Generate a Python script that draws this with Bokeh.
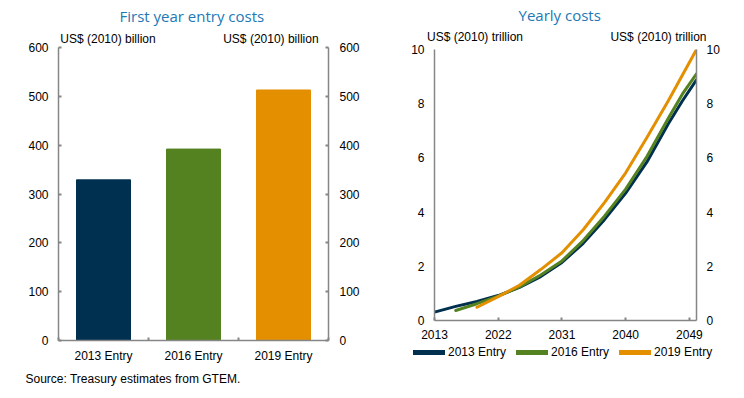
from bokeh.plotting import figure
from bokeh.models import (Range1d, LinearAxis, FixedTicker, Legend,
                          LegendItem, ColumnDataSource, Title)
from bokeh.layouts import row, column
from bokeh.embed import file_html
from bokeh.resources import INLINE

# ---------------- data ----------------
categories = ["2013 Entry", "2016 Entry", "2019 Entry"]
first_year_cost = [329, 392, 513]          # US$ (2010) billion
bar_colors = ["#00304F", "#548220", "#E38F00"]

left_y_ticks = [0, 100, 200, 300, 400, 500, 600]

years_2013 = [2013, 2016, 2019, 2022, 2025, 2028, 2031, 2034, 2037, 2040, 2043, 2046, 2048, 2050]
cost_2013 = [0.31, 0.52, 0.70, 0.92, 1.22, 1.62, 2.14, 2.85, 3.72, 4.70, 5.85, 7.25, 8.10, 8.88]

years_2016 = [2016, 2019, 2022, 2025, 2028, 2031, 2034, 2037, 2040, 2043, 2046, 2048, 2050]
cost_2016 = [0.37, 0.62, 0.90, 1.24, 1.68, 2.20, 2.95, 3.85, 4.85, 6.05, 7.45, 8.35, 9.10]

years_2019 = [2019, 2022, 2025, 2028, 2031, 2034, 2037, 2040, 2043, 2046, 2048, 2050]
cost_2019 = [0.49, 0.88, 1.30, 1.88, 2.50, 3.35, 4.35, 5.45, 6.75, 8.10, 9.05, 10.0]

x_ticks = [2013, 2022, 2031, 2040, 2049]
right_y_ticks = [0, 2, 4, 6, 8, 10]

left_unit = "US$ (2010) billion"
right_unit = "US$ (2010) trillion"

FONT = "Liberation Sans"
TITLE_FONT = "Open Sans"
TITLE_COLOR = "#2278B5"
AX = "#868686"
H = 392


def style_axis(ax, tick_in=0, standoff=10):
    ax.axis_line_color = AX
    ax.axis_line_width = 1.5
    ax.major_tick_line_color = AX
    ax.major_tick_line_width = 2
    ax.minor_tick_line_color = AX
    ax.minor_tick_line_width = 2
    ax.major_tick_in = tick_in
    ax.major_tick_out = 0
    ax.minor_tick_in = 0
    ax.minor_tick_out = 0
    ax.major_label_standoff = standoff
    ax.major_label_text_font = FONT
    ax.major_label_text_font_size = "12px"
    ax.major_label_text_color = "black"


def unit_axis(ticks, labels, standoff):
    ax = LinearAxis(ticker=FixedTicker(ticks=ticks),
                    major_label_overrides={t: s for t, s in zip(ticks, labels)})
    ax.axis_line_color = None
    ax.major_tick_line_color = None
    ax.minor_tick_line_color = None
    ax.major_tick_out = 0
    ax.major_tick_in = 0
    ax.minor_tick_out = 0
    ax.minor_tick_in = 0
    ax.major_label_standoff = standoff
    ax.major_label_text_font = FONT
    ax.major_label_text_font_size = "12px"
    ax.major_label_text_color = "black"
    return ax


def style_title(p, text, offset, standoff):
    p.title.text = text
    p.title.align = "left"
    p.title.offset = offset
    p.title.text_font = TITLE_FONT
    p.title.text_font_size = "15px"
    p.title.text_font_style = "normal"
    p.title.text_color = TITLE_COLOR
    p.title.standoff = standoff


# ---------------- left: first year entry costs ----------------
p1 = figure(width=372, height=H, output_backend="svg", toolbar_location=None,
            x_range=Range1d(0, 3), y_range=Range1d(0, 600),
            min_border_left=58, min_border_right=44, min_border_top=46,
            min_border_bottom=H - 340)
p1.frame_align = False
p1.outline_line_color = None
p1.xgrid.visible = False
p1.ygrid.visible = False

xpos = [i + 0.5 for i in range(len(categories))]
src1 = ColumnDataSource(dict(x=xpos, top=first_year_cost, color=bar_colors, cat=categories))
p1.vbar(x="x", top="top", width=0.6, color="color", source=src1)

xa = p1.xaxis[0]
style_axis(xa, tick_in=0, standoff=8)
xa.ticker = FixedTicker(ticks=xpos, minor_ticks=list(range(len(categories) + 1)))
xa.major_label_overrides = {x: c for x, c in zip(xpos, categories)}
xa.minor_tick_in = 3

ya = p1.yaxis[0]
style_axis(ya, tick_in=3, standoff=10)
ya.ticker = FixedTicker(ticks=left_y_ticks)

ya2 = LinearAxis(ticker=FixedTicker(ticks=left_y_ticks))
style_axis(ya2, tick_in=3, standoff=11)
p1.add_layout(ya2, "right")

p1.add_layout(unit_axis([0.55, 2.36], [left_unit, left_unit], 2), "above")
style_title(p1, "First year entry costs", 61, 6)

src_title = Title(text="Source: Treasury estimates from GTEM.", align="left",
                  offset=-33, text_font=FONT, text_font_size="12px",
                  text_font_style="normal", text_color="black", standoff=8)
p1.add_layout(src_title, "below")

# ---------------- right: yearly costs ----------------
H2 = 345
p2 = figure(width=364, height=H2, output_backend="svg", toolbar_location=None,
            x_range=Range1d(2013, 2050), y_range=Range1d(0, 10),
            min_border_left=62, min_border_right=40, min_border_top=49,
            min_border_bottom=H2 - 320)
p2.frame_align = False
p2.outline_line_color = None
p2.xgrid.visible = False
p2.ygrid.visible = False

series = [("2013 Entry", years_2013, cost_2013, bar_colors[0]),
          ("2016 Entry", years_2016, cost_2016, bar_colors[1]),
          ("2019 Entry", years_2019, cost_2019, bar_colors[2])]
for name, xs, ys, col in series:
    p2.line(xs, ys, line_color=col, line_width=3, line_cap="round", line_join="round")

xb = p2.xaxis[0]
style_axis(xb, tick_in=3, standoff=9)
xb.ticker = FixedTicker(ticks=x_ticks)

yb = p2.yaxis[0]
style_axis(yb, tick_in=0, standoff=10)
yb.ticker = FixedTicker(ticks=right_y_ticks)

yb2 = LinearAxis(ticker=FixedTicker(ticks=right_y_ticks))
style_axis(yb2, tick_in=0, standoff=10)
p2.add_layout(yb2, "right")

p2.add_layout(unit_axis([2018.72, 2044.63], [right_unit, right_unit], 6), "above")
style_title(p2, "Yearly costs", 84, 4)

# ---------------- legend strip under the right chart ----------------
p3 = figure(width=364, height=18, output_backend="svg", toolbar_location=None,
            x_range=Range1d(0, 1), y_range=Range1d(0, 1),
            x_axis_location=None, y_axis_location=None,
            min_border_left=0, min_border_right=0, min_border_top=0,
            min_border_bottom=0)
p3.frame_align = False
p3.outline_line_color = None
p3.xgrid.visible = False
p3.ygrid.visible = False
items = []
for name, xs, ys, col in series:
    # same series, outside this strip's ranges: only its legend glyph shows
    r = p3.line(xs, ys, line_color=col, line_width=5, line_cap="round")
    items.append(LegendItem(label=name, renderers=[r]))
legend = Legend(items=items, location=(41, 4), orientation="horizontal",
                background_fill_alpha=0, border_line_alpha=0, padding=0, margin=0,
                spacing=10, glyph_width=32, glyph_height=14, label_standoff=3,
                label_height=14, label_text_font=FONT, label_text_font_size="12px",
                label_text_color="black")
p3.add_layout(legend, "center")

layout = row(p1, column(p2, p3))
open("out.html", "w").write(file_html(layout, INLINE))
